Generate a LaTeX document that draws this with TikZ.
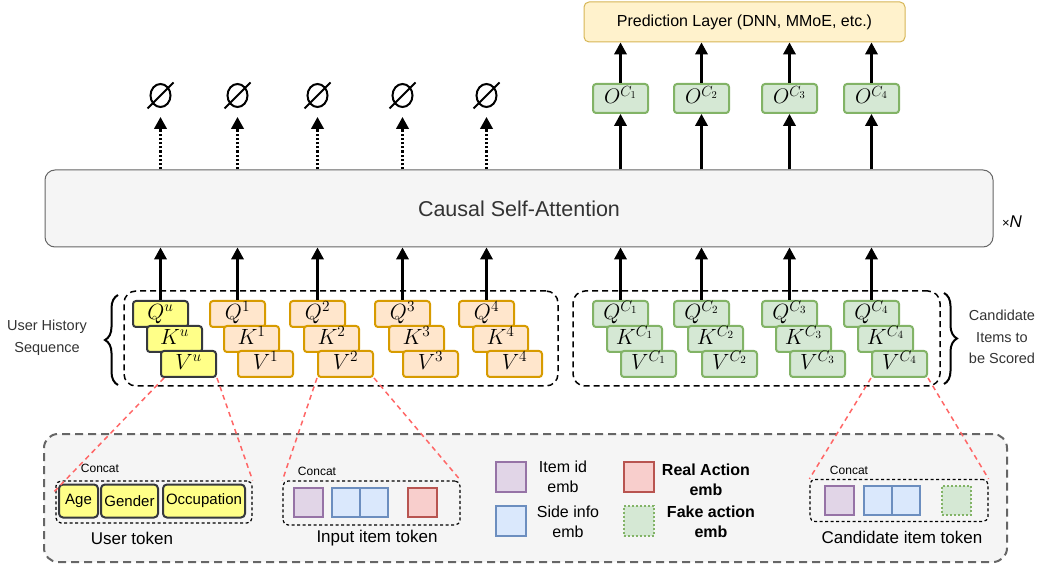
\RequirePackage{fix-cm}
\documentclass[tikz,border=0pt]{standalone}
\usepackage{amsmath}
\usepackage{fontspec}
\setmainfont{Liberation Sans}
\usetikzlibrary{arrows.meta,shapes.geometric,decorations.pathreplacing,calc}

\definecolor{userfill}{HTML}{FFFF88}
\definecolor{userline}{HTML}{36393D}
\definecolor{histfill}{HTML}{FFE6CC}
\definecolor{histline}{HTML}{D79B00}
\definecolor{candfill}{HTML}{D5E8D4}
\definecolor{candline}{HTML}{82B366}
\definecolor{predfill}{HTML}{FFF2CC}
\definecolor{predline}{HTML}{D6B656}
\definecolor{panelfill}{HTML}{F5F5F5}
\definecolor{panelline}{HTML}{666666}
\definecolor{idfill}{HTML}{E1D5E7}
\definecolor{idline}{HTML}{9673A6}
\definecolor{sidefill}{HTML}{DAE8FC}
\definecolor{sideline}{HTML}{6C8EBF}
\definecolor{realfill}{HTML}{F8CECC}
\definecolor{realline}{HTML}{B85450}
\definecolor{zoomline}{HTML}{FF6666}
\definecolor{textgray}{HTML}{333333}

\newcommand{\fsz}[2]{\fontsize{#1}{#2}\selectfont}

% one Q/K/V stack: name suffix, style, left edge, superscript
\newcommand{\qkvstack}[4]{%
  \node[#2] (q#1) at (#3+27.5,314) {$Q^{#4}$};
  \node[#2] (k#1) at (#3+41.5,339) {$K^{#4}$};
  \node[#2] (v#1) at (#3+55.5,364) {$V^{#4}$};
}

\begin{document}
\begin{tikzpicture}[x=1pt,y=-1pt,
  >={Triangle[width=12.5pt,length=12pt]},
  tok/.style={draw,line width=2pt,rounded corners=3pt,minimum width=55pt,
    minimum height=26pt,inner sep=0pt,text height=15pt,text depth=4pt,
    font=\fsz{22}{22}},
  usertok/.style={tok,fill=userfill,draw=userline},
  histtok/.style={tok,fill=histfill,draw=histline},
  candtok/.style={tok,fill=candfill,draw=candline},
  outtok/.style={candtok,minimum height=29pt,font=\fsz{21}{21}},
  grp/.style={draw,line width=1.5pt,dash pattern=on 6pt off 4pt,
    rounded corners=12pt,inner sep=0pt},
  tokgrp/.style={draw,line width=1.2pt,dash pattern=on 3pt off 2.5pt,
    rounded corners=5pt,inner sep=0pt},
  flow/.style={->,line width=2.2pt},
  voidflow/.style={->,line width=2.6pt,dash pattern=on 2.2pt off 2pt},
  voidsym/.style={ellipse,draw,line width=2pt,minimum width=20pt,
    minimum height=23pt,inner sep=0pt},
  feat/.style={draw=userline,fill=userfill,line width=2pt,rounded corners=4pt,
    minimum height=33pt,inner sep=0pt,font=\fsz{15}{15}},
  emb/.style={minimum width=29pt,minimum height=29pt,line width=2pt,inner sep=0pt},
  idemb/.style={emb,fill=idfill,draw=idline},
  sideemb/.style={emb,minimum width=28pt,fill=sidefill,draw=sideline},
  realemb/.style={emb,fill=realfill,draw=realline},
  fakeemb/.style={emb,fill=candfill,draw=candline,dash pattern=on 2pt off 2pt},
  concat/.style={font=\fsz{12}{12},inner sep=0pt},
  toklabel/.style={font=\fsz{17}{17},inner sep=0pt},
  legend/.style={font=\fsz{16}{20},align=center,inner sep=0pt},
  side/.style={font=\fsz{14.5}{21.5},align=center,text=textgray,inner sep=0pt},
  zoomln/.style={draw=zoomline,line width=1.5pt,dash pattern=on 5pt off 4pt},
  brace/.style={decorate,decoration={brace,amplitude=13pt},line width=2pt}]

\useasboundingbox (0,0) rectangle (1042,569);

% ---------- input token groups ----------
\node[grp,minimum width=434pt,minimum height=95pt] (ugrp) at (341,338.5) {};
\node[grp,minimum width=367pt,minimum height=95pt] (cgrp) at (756.5,338.5) {};

\qkvstack{u}{usertok}{133}{u}
\qkvstack{1}{histtok}{210}{1}
\qkvstack{2}{histtok}{290}{2}
\qkvstack{3}{histtok}{375}{3}
\qkvstack{4}{histtok}{459}{4}
\qkvstack{c1}{candtok}{593}{C_1}
\qkvstack{c2}{candtok}{674}{C_2}
\qkvstack{c3}{candtok}{762}{C_3}
\qkvstack{c4}{candtok}{844}{C_4}

\draw[brace] (118,385) -- (118,295);
\node[side] (ulabel) at (47,338) {User History\\Sequence};
\draw[brace] (944,293) -- (944,384);
\node[side] (clabel) at (1002,337) {Candidate\\Items to\\be Scored};

% ---------- attention block ----------
\node[draw=panelline,fill=panelfill,line width=1pt,rounded corners=10pt,
  minimum width=948pt,minimum height=77pt,text=textgray,font=\fsz{21.5}{21.5}]
  (att) at (519,208.5) {Causal Self-Attention};
\node[font=\fsz{17}{17},inner sep=0pt] (times) at (1012,222)
  {{\fsz{13}{13}×}\textit{N}};

\foreach \c in {u,1,2,3,4,c1,c2,c3,c4}
  \draw[flow] (q\c.north) -- (q\c.north |- att.south);

% ---------- outputs of history positions ----------
\coordinate (voidrow) at (0,95.5);
\foreach \c/\e in {u/e0,1/e1,2/e2,3/e3,4/e4} {
  \node[voidsym] (\e) at (q\c |- voidrow) {};
  \draw[line width=2pt] ($(\e.center)+(-13,13)$) -- ($(\e.center)+(13,-13)$);
  \draw[voidflow] (\e |- att.north) -- ([yshift=-9pt]\e.south);
}

% ---------- outputs of candidate positions ----------
\node[draw=predline,fill=predfill,line width=1pt,rounded corners=5pt,
  minimum width=321pt,minimum height=40pt,font=\fsz{16}{16}]
  (pred) at (744.5,22) {Prediction Layer (DNN, MMoE, etc.)};
\coordinate (outrow) at (0,98.5);
\foreach \c/\i in {c1/1,c2/2,c3/3,c4/4} {
  \node[outtok] (o\i) at (q\c |- outrow) {$O^{C_\i}$};
  \draw[flow] (o\i |- att.north) -- (o\i.south);
  \draw[flow] (o\i.north) -- (o\i.north |- pred.south);
}

% ---------- token detail panel ----------
\node[draw=panelline,fill=panelfill,line width=2pt,dash pattern=on 8pt off 5pt,
  rounded corners=14pt,minimum width=963pt,minimum height=128pt] (panel)
  at (525.5,498) {};

% user token
\node[tokgrp,minimum width=196pt,minimum height=42pt] (utok) at (154,502) {};
\node[feat,minimum width=39pt] (age) at (78.5,501) {Age};
\node[feat,minimum width=57pt] (gender) at (129.5,501) {Gender};
\node[feat,minimum width=82pt] (occ) at (204,501) {Occupation};
\node[concat] (ucat) at (100,468) {Concat};
\node[toklabel] (ulab) at (132,538) {User token};

% input item token
\node[tokgrp,minimum width=177pt,minimum height=44pt] (itok) at (371.5,503) {};
\node[idemb] (iid) at (308.5,502.5) {};
\node[sideemb] (is1) at (346,502.5) {};
\node[sideemb] (is2) at (373.5,502.5) {};
\node[realemb] (ireal) at (422.5,502.5) {};
\node[concat] (icat) at (317,471) {Concat};
\node[toklabel] (ilab) at (377,538) {Input item token};

% legend
\node[idemb,minimum width=30pt,minimum height=30pt] (lid) at (511,476.5) {};
\node[legend] (lidt) at (563,477) {Item id\\emb};
\node[sideemb,minimum width=30pt,minimum height=30pt] (lside) at (511,521) {};
\node[legend] (lsidet) at (568,522) {Side info\\emb};
\node[realemb,minimum width=30pt,minimum height=30pt] (lreal) at (638.5,476.5) {};
\node[legend,font=\fsz{16}{20}\bfseries] (lrealt) at (706,480) {Real Action\\emb};
\node[fakeemb,minimum width=30pt,minimum height=30pt] (lfake) at (638.5,521) {};
\node[legend,font=\fsz{16}{20}\bfseries] (lfaket) at (711,522) {Fake action\\emb};

% candidate item token
\node[tokgrp,minimum width=178pt,minimum height=42pt] (ctok) at (899,500.5) {};
\node[idemb] (cid) at (839.5,500.5) {};
\node[sideemb] (cs1) at (878,500.5) {};
\node[sideemb] (cs2) at (906,500.5) {};
\node[fakeemb] (cfake) at (956.5,500.5) {};
\node[concat] (ccat) at (849,470) {Concat};
\node[toklabel] (clab) at (902,537) {Candidate item token};

% zoom-in guides from the stacks to their token contents
\coordinate (uhit) at ($(utok.north west)+(-1,11)$);
\draw[zoomln] ([xshift=4pt]vu.south west) -- (uhit);
\draw[zoomln] (vu.south east) -- (utok.north east);
\draw[zoomln] (v2.south west) -- (itok.north west);
\draw[zoomln] (v2.south east) -- (itok.north east);
\draw[zoomln] (vc4.south west) -- (ctok.north west);
\draw[zoomln] (vc4.south east) -- (ctok.north east);

\end{tikzpicture}
\end{document}
